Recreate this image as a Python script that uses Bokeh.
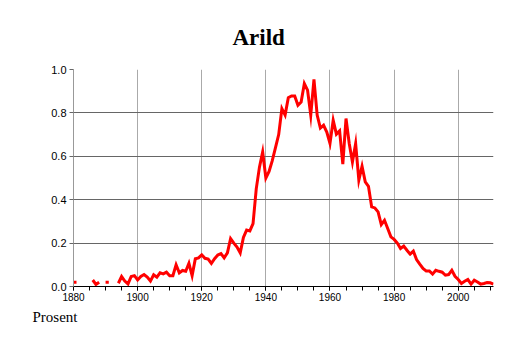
import math
from bokeh.plotting import figure
from bokeh.models import Range1d, FixedTicker, Title, ColumnDataSource, CustomJSTickFormatter
from bokeh.embed import file_html
from bokeh.resources import INLINE

nan = float("nan")

title_text = "Arild"
ylabel_text = "Prosent"

years = list(range(1880, 2012))
values = (
    [0.02, nan, nan, nan, nan, nan, 0.03, 0.01, 0.02, nan] +
    [0.02, 0.02, nan, nan, 0.015, 0.046, 0.025, 0.012, 0.046, 0.05] +
    [0.03, 0.046, 0.055, 0.043, 0.025, 0.054, 0.043, 0.063, 0.058, 0.066] +
    [0.05, 0.05, 0.10, 0.063, 0.074, 0.07, 0.107, 0.05, 0.128, 0.132] +
    [0.146, 0.13, 0.126, 0.106, 0.128, 0.145, 0.152, 0.132, 0.155, 0.221] +
    [0.2, 0.182, 0.155, 0.226, 0.26, 0.256, 0.29, 0.45, 0.55, 0.62] +
    [0.50, 0.53, 0.58, 0.64, 0.70, 0.82, 0.79, 0.87, 0.878, 0.878] +
    [0.835, 0.85, 0.935, 0.905, 0.79, 0.955, 0.79, 0.73, 0.743, 0.712] +
    [0.659, 0.766, 0.702, 0.717, 0.564, 0.774, 0.659, 0.574, 0.659, 0.49] +
    [0.554, 0.482, 0.462, 0.367, 0.362, 0.344, 0.285, 0.305, 0.267, 0.229] +
    [0.217, 0.2, 0.175, 0.186, 0.167, 0.149, 0.163, 0.124, 0.103, 0.083] +
    [0.072, 0.072, 0.057, 0.075, 0.07, 0.066, 0.052, 0.055, 0.075, 0.047] +
    [0.032, 0.014, 0.024, 0.032, 0.011, 0.029, 0.021, 0.011, 0.014, 0.018] +
    [0.017, 0.011]
)

x_major = [1880, 1900, 1920, 1940, 1960, 1980, 2000]
x_minor = list(range(1880, 2012, 5))
y_major = [0.0, 0.2, 0.4, 0.6, 0.8, 1.0]

p = figure(width=514, height=343, output_backend="svg", toolbar_location=None,
           x_range=Range1d(1880, 2011), y_range=Range1d(0, 1.0),
           min_border_left=73, min_border_right=21, min_border_top=69, min_border_bottom=57)
p.outline_line_color = None
p.background_fill_color = "white"
p.border_fill_color = "white"

p.title.text = title_text
p.title.text_font = "Liberation Serif"
p.title.text_font_style = "bold"
p.title.text_font_size = "23px"
p.title.align = "left"
p.title.offset = 159
p.title.text_color = "black"
p.title.standoff = 40

p.add_layout(Title(text=ylabel_text, text_font="Liberation Serif", text_font_style="normal",
                   text_font_size="15px", align="left", offset=-41, standoff=6,
                   text_color="black"), "below")

p.xaxis.ticker = FixedTicker(ticks=x_major, minor_ticks=x_minor)
p.yaxis.ticker = FixedTicker(ticks=y_major, minor_ticks=[])
p.yaxis.formatter = CustomJSTickFormatter(code="return tick.toFixed(1);")

for ax in (p.xaxis, p.yaxis):
    ax.major_label_text_font = "Liberation Sans"
    ax.major_label_text_font_size = "10px"
    ax.major_label_text_color = "black"
    ax.major_tick_out = 4
    ax.major_tick_in = 0
    ax.minor_tick_out = 4
    ax.minor_tick_in = 0

p.yaxis.major_label_text_font_size = "11px"
p.xaxis.axis_line_color = "black"
p.xaxis.major_tick_line_color = "black"
p.xaxis.minor_tick_line_color = "black"
p.xaxis.major_label_standoff = 2
p.yaxis.axis_line_color = "#999999"
p.yaxis.major_tick_line_color = "#666666"
p.yaxis.minor_tick_line_color = None
p.yaxis.major_label_standoff = 3

p.xgrid.grid_line_color = "#aaaaaa"
p.xgrid.ticker = FixedTicker(ticks=x_major)
p.ygrid.grid_line_color = "#666666"
p.ygrid.ticker = FixedTicker(ticks=y_major)

src = ColumnDataSource(data=dict(x=years, y=values))
p.line("x", "y", source=src, line_color="#ff0000", line_width=3, line_join="miter")

iso_x, iso_y = [], []
for i, v in enumerate(values):
    if math.isnan(v):
        continue
    prev_nan = i == 0 or math.isnan(values[i - 1])
    next_nan = i == len(values) - 1 or math.isnan(values[i + 1])
    if prev_nan and next_nan:
        iso_x.append(years[i])
        iso_y.append(v)
p.scatter(iso_x, iso_y, marker="dash", size=6, line_color="#ff0000", line_width=3)

open("out.html", "w").write(file_html(p, INLINE))
